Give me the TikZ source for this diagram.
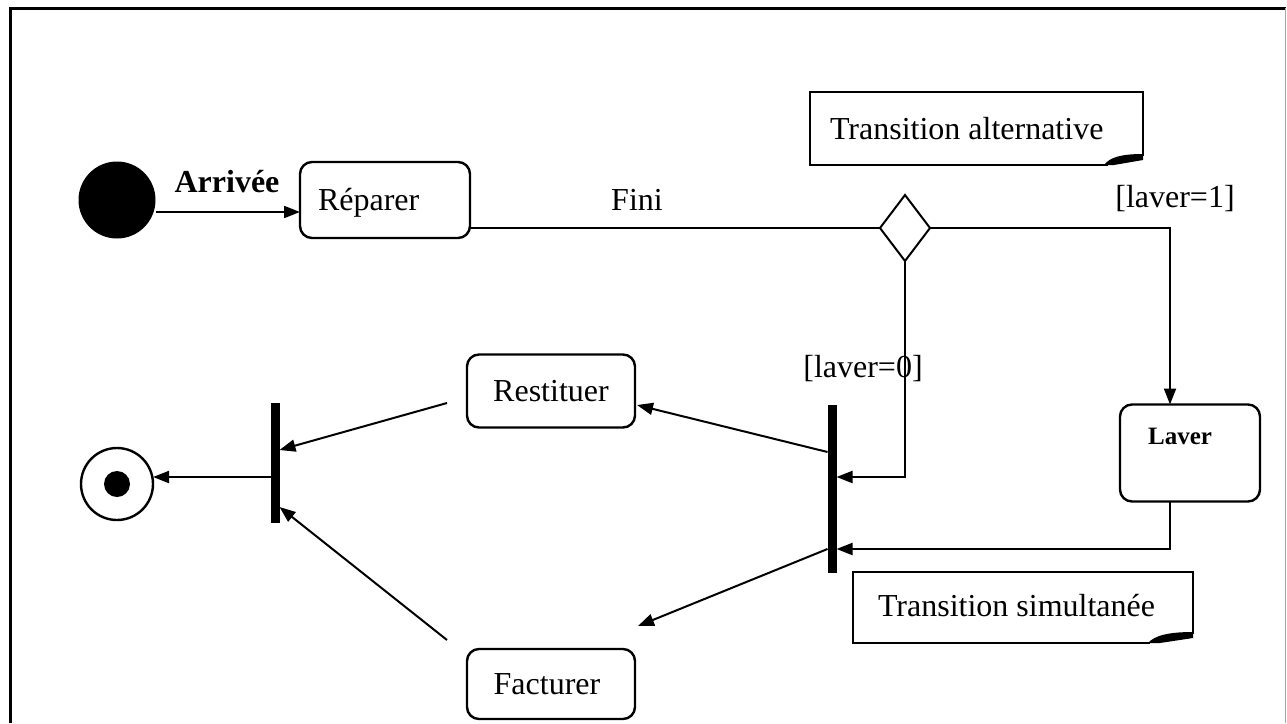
\documentclass[tikz,border=0pt]{standalone}
\usepackage{fontspec}
\setmainfont{Liberation Serif}
\usetikzlibrary{arrows.meta,shapes.geometric,calc}
\begin{document}
\begin{tikzpicture}[x=1pt,y=-1pt,
  every node/.style={inner sep=0pt, outer sep=0pt},
  lbl/.style={font=\fontsize{32}{36}\selectfont},
  blbl/.style={font=\fontsize{32}{36}\selectfont\bfseries},
  activity/.style={draw, line width=2.4pt, rounded corners=12pt},
  syncbar/.style={fill=black, minimum width=9pt},
  conn/.style={line width=2pt},
  arr/.style={conn, -{Triangle[length=16pt,width=12pt]}},
  notebox/.style={line width=2.4pt, line join=miter},
  curl/.style={fill=black}
]
\useasboundingbox (0,0) rectangle (1287,723);

% frame
\draw[line width=3pt] (10,723) -- (10,8) -- (1286,8);
\draw[line width=1pt, black!35] (1285,8) -- (1285,723);

% initial and final states
\node[circle, fill=black, minimum size=77pt] (init) at (117,200) {};
\node[circle, draw, line width=2.4pt, minimum size=72pt] (final) at (117,484) {};
\node[circle, fill=black, minimum size=26pt] (finaldot) at (final) {};

% activities
\node[activity, minimum width=170pt, minimum height=76pt] (reparer) at (385,200) {};
\node[lbl, anchor=west] (treparer) at (318,203) {Réparer};
\node[activity, minimum width=140pt, minimum height=97pt] (laver) at (1190,453) {};
\node[font=\fontsize{25}{28}\selectfont\bfseries] (tlaver) at (1180,436) {Laver};
\node[activity, minimum width=168pt, minimum height=73pt] (restituer) at (551,391) {};
\node[lbl] (trestituer) at (551,391) {Restituer};
\node[activity, minimum width=168pt, minimum height=70pt] (facturer) at (551,684) {};
\node[lbl] (tfacturer) at (547,684) {Facturer};

% decision
\node[diamond, draw, line width=2pt, minimum width=50pt, minimum height=66pt] (dia) at (905,228) {};

% synchronisation bars
\node[syncbar, minimum height=168pt] (fork) at (832,489) {};
\node[syncbar, minimum height=120pt] (join) at (275,463) {};

% transitions
\draw[arr] (init.east |- 0,212) -- (reparer.west |- 0,212);
\node[blbl] (tarrivee) at (227,182) {Arrivée};
\draw[conn] (reparer.east |- dia.west) -- (dia.west);
\node[lbl] (tfini) at (637,200) {Fini};
\draw[arr] (dia.east) -| ($(laver.north west)+(50,0)$);
\node[lbl] (tl1) at (1175,199) {[laver=1]};
\draw[arr] (dia.south) |- ($(fork.east)+(0,-12)$);
\node[lbl] (tl0) at (863,369) {[laver=0]};
\draw[arr] ($(laver.south west)+(50,0)$) |- ($(fork.east)+(0,60)$);
\draw[arr] ($(fork.west)+(0,-37)$) -- ($(restituer.east)+(2,14)$);
\draw[arr] ($(fork.west)+(0,60)$) -- ($(facturer.east)+(3,-58)$);
\draw[arr] ($(restituer.west)+(-20,12)$) -- ($(join.east)+(0,-13)$);
\draw[arr] ($(facturer.west)+(-20,-44)$) -- ($(join.east)+(0,44)$);
\coordinate (joinout) at ($(join.west)+(0,14)$);
\draw[arr] (joinout) -- (final.east |- joinout);

% notes
\draw[notebox] (1108,165) -- (810,165) -- (810,92) -- (1143,92) -- (1143,156);
\fill[curl] (1143,154) -- (1143,160) -- (1114,165) -- (1104,165)
  .. controls (1110,157) and (1122,154) .. cycle;
\node[lbl, anchor=west] (talt) at (830,129) {Transition alternative};
\draw[notebox] (1150,643) -- (853,643) -- (853,572) -- (1193,572) -- (1193,634);
\fill[curl] (1193,632) -- (1193,638) -- (1160,643) -- (1148,643)
  .. controls (1155,635) and (1170,632) .. cycle;
\node[lbl, anchor=west] (tsim) at (878,606) {Transition simultanée};
\end{tikzpicture}
\end{document}
